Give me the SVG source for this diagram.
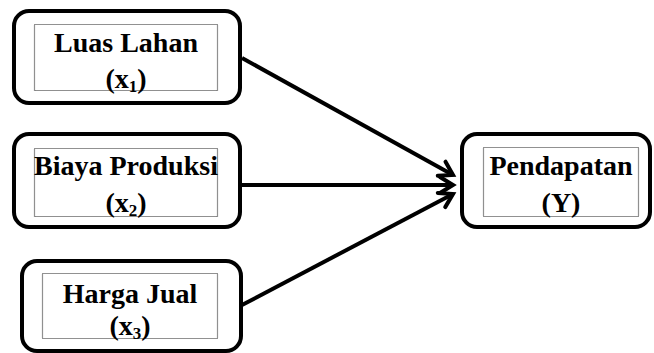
<svg xmlns="http://www.w3.org/2000/svg" width="654" height="353" viewBox="0 0 654 353">
<style>
.box{fill:#fff;stroke:#000;stroke-width:4}
.inner{fill:none;stroke:#222;stroke-width:1.2;stroke-dasharray:1 1}
.t{font-family:"Liberation Serif","Times New Roman",serif;font-weight:bold;font-size:28px;fill:#000;text-anchor:middle}
.sub{font-size:17px}
.conn{stroke:#000;stroke-width:4;fill:none;marker-end:url(#arr)}
</style>
<defs>
<marker id="arr" markerUnits="userSpaceOnUse" markerWidth="24" markerHeight="24" viewBox="0 0 24 24" refX="20" refY="12" orient="auto">
<path d="M7,4 L20,12 L7,20" fill="none" stroke="#000" stroke-width="4" stroke-linecap="round" stroke-linejoin="miter"/>
</marker>
</defs>
<g id="connectors">
<line class="conn" x1="242" y1="58" x2="453" y2="175"/>
<line class="conn" x1="242" y1="185" x2="453" y2="185"/>
<line class="conn" x1="242" y1="305" x2="453" y2="194"/>
</g>
<g id="n1">
<rect class="box" x="14" y="11" width="226" height="92" rx="15"/>
<rect class="inner" x="34.5" y="24.5" width="183" height="66"/>
<text class="t" x="126" y="52">Luas Lahan</text>
<text class="t" x="126" y="88">(x<tspan class="sub" dy="4">1</tspan><tspan dy="-4">)</tspan></text>
</g>
<g id="n2">
<rect class="box" x="14" y="134" width="226" height="93" rx="15"/>
<rect class="inner" x="34.5" y="148.5" width="183" height="68"/>
<text class="t" x="126" y="175">Biaya Produksi</text>
<text class="t" x="126" y="212">(x<tspan class="sub" dy="4">2</tspan><tspan dy="-4">)</tspan></text>
</g>
<g id="n3">
<rect class="box" x="22" y="261" width="219" height="90" rx="15"/>
<rect class="inner" x="42.5" y="273.5" width="175" height="65"/>
<text class="t" x="130" y="303">Harga Jual</text>
<text class="t" x="130" y="335">(x<tspan class="sub" dy="4">3</tspan><tspan dy="-4">)</tspan></text>
</g>
<g id="n4">
<rect class="box" x="462" y="134" width="188" height="93" rx="15"/>
<rect class="inner" x="483.5" y="147.5" width="155" height="69"/>
<text class="t" x="561" y="175">Pendapatan</text>
<text class="t" x="561" y="212">(Y)</text>
</g>
</svg>
